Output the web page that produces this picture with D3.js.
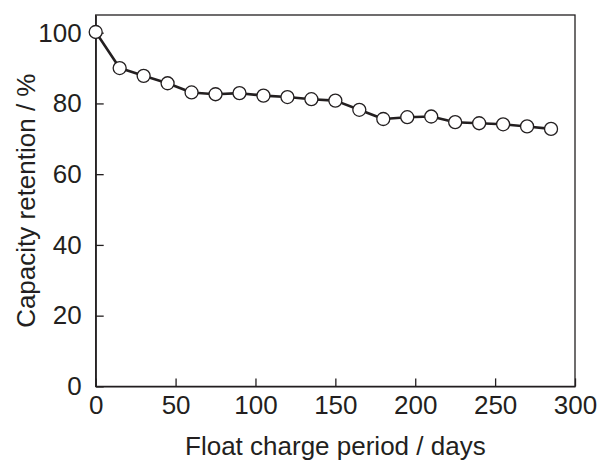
<!DOCTYPE html>
<html>
<head>
<meta charset="utf-8">
<script src="https://cdn.jsdelivr.net/npm/d3@7"></script>
<style>
  html, body { margin: 0; padding: 0; background: #fff; }
  svg { display: block; }
  text { font-family: "Liberation Sans", Arial, Helvetica, sans-serif; fill: #231f20; }
</style>
</head>
<body>
<script>
const days = [0, 15, 30, 45, 60, 75, 90, 105, 120, 135, 150, 165, 180, 195, 210, 225, 240, 255, 270, 285];
const retention = [100.2, 90.0, 87.8, 85.7, 83.1, 82.6, 82.9, 82.2, 81.8, 81.2, 80.8, 78.2, 75.6, 76.1, 76.3, 74.7, 74.4, 74.1, 73.5, 72.8];
const xTicks = [0, 50, 100, 150, 200, 250, 300];
const yTicks = [0, 20, 40, 60, 80, 100];
const xTitle = "Float charge period / days";
const yTitle = "Capacity retention / %";

const W = 599, H = 461;
const m = { left: 95.7, top: 15, right: 599 - 575, bottom: 461 - 386.4 };
const ink = "#231f20";
const tickFS = 26, titleFS = 26;

const svg = d3.select("body").append("svg").attr("width", W).attr("height", H);

const x = d3.scaleLinear().domain([0, 300]).range([m.left, W - m.right]);
const y = d3.scaleLinear().domain([0, 105]).range([H - m.bottom, m.top]);

// frame
svg.append("rect")
  .attr("x", x(0)).attr("y", y(105))
  .attr("width", x(300) - x(0)).attr("height", y(0) - y(105))
  .attr("fill", "none").attr("stroke", ink).attr("stroke-width", 1.3);

// x axis
const xAxis = svg.append("g")
  .attr("transform", `translate(0,${y(0)})`)
  .call(d3.axisBottom(x).tickValues(xTicks).tickSizeInner(-8).tickSizeOuter(0).tickPadding(9));
xAxis.select(".domain").attr("stroke", ink).attr("stroke-width", 1.3);
xAxis.selectAll(".tick line").attr("stroke", ink).attr("stroke-width", 1.3);
xAxis.selectAll(".tick text").attr("font-size", tickFS).attr("font-family", "Liberation Sans, Arial, sans-serif").attr("fill", ink);

// y axis
const yAxis = svg.append("g")
  .attr("transform", `translate(${x(0)},0)`)
  .call(d3.axisLeft(y).tickValues(yTicks).tickSizeInner(-8).tickSizeOuter(0).tickPadding(14));
yAxis.select(".domain").attr("stroke", ink).attr("stroke-width", 1.3);
yAxis.selectAll(".tick line").attr("stroke", ink).attr("stroke-width", 1.3);
yAxis.selectAll(".tick text").attr("font-size", tickFS).attr("font-family", "Liberation Sans, Arial, sans-serif").attr("fill", ink);

// titles
svg.append("text")
  .attr("x", (x(0) + x(300)) / 2).attr("y", 454.5)
  .attr("text-anchor", "middle").attr("font-size", titleFS)
  .text(xTitle);
svg.append("text")
  .attr("transform", `translate(35,${(y(0) + y(105)) / 2}) rotate(-90)`)
  .attr("text-anchor", "middle").attr("font-size", titleFS)
  .text(yTitle);

const data = days.map((d, i) => ({ d, v: retention[i] }));

svg.append("path")
  .datum(data)
  .attr("fill", "none").attr("stroke", ink).attr("stroke-width", 2.6)
  .attr("stroke-linejoin", "round")
  .attr("d", d3.line().x(p => x(p.d)).y(p => y(p.v)));

svg.selectAll("circle.pt").data(data).enter().append("circle")
  .attr("class", "pt")
  .attr("cx", p => x(p.d)).attr("cy", p => y(p.v)).attr("r", 6.5)
  .attr("fill", "#fff").attr("stroke", ink).attr("stroke-width", 1.3);
</script>
</body>
</html>
